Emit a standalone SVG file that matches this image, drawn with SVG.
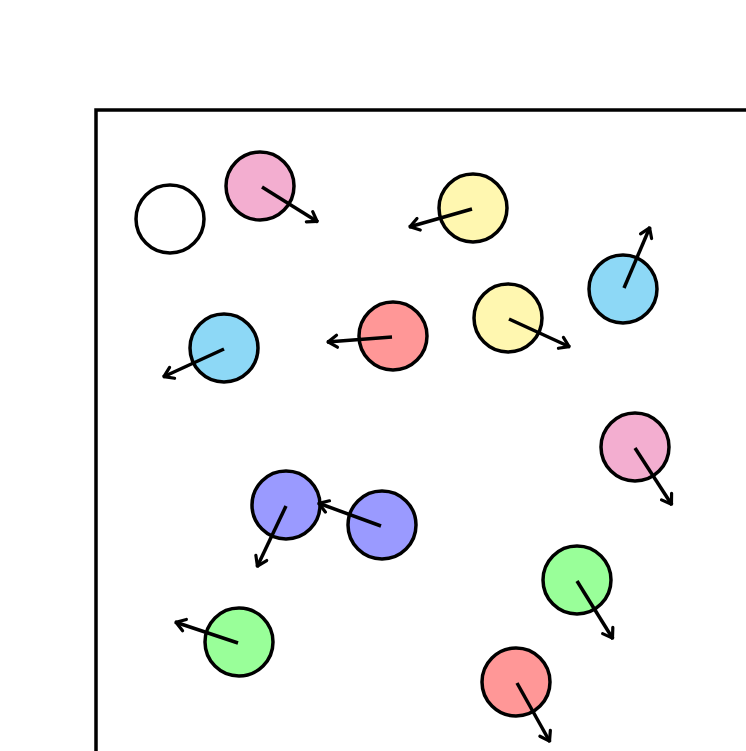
<svg xmlns="http://www.w3.org/2000/svg" width="746" height="751" viewBox="0 0 746 751">
<style>
.n{stroke:#000;stroke-width:3.5}
.pink{fill:#f3aed0}.yellow{fill:#fff7b0}.blue{fill:#8dd8f6}.red{fill:#ff9797}.purple{fill:#9a9aff}.green{fill:#99ff99}.white{fill:#fff}
.c line{stroke:#000;stroke-width:3.5;stroke-linecap:butt;marker-end:url(#ah)}
</style>
<defs>
<marker id="ah" markerUnits="userSpaceOnUse" viewBox="-12 -8 14 16" markerWidth="14" markerHeight="16" refX="1" refY="0" orient="auto">
<path d="M-9,-6 L0,0 L-9,6" fill="none" stroke="#000" stroke-width="3.2" stroke-linecap="round" stroke-linejoin="round"/>
</marker>
</defs>
<rect width="746" height="751" fill="#fff"/>
<path d="M96,751 V110 H746" fill="none" stroke="#000" stroke-width="3.5"/>
<g id="n1"><circle class="n white" cx="170" cy="219" r="34"/></g>
<g id="n2"><circle class="n pink" cx="260" cy="186" r="34"/></g>
<g id="n3"><circle class="n yellow" cx="473" cy="208" r="34"/></g>
<g id="n4"><circle class="n blue" cx="623" cy="289" r="34"/></g>
<g id="n5"><circle class="n blue" cx="224" cy="348" r="34"/></g>
<g id="n6"><circle class="n red" cx="393" cy="336" r="34"/></g>
<g id="n7"><circle class="n yellow" cx="508" cy="318" r="34"/></g>
<g id="n8"><circle class="n pink" cx="635" cy="447" r="34"/></g>
<g id="n9"><circle class="n purple" cx="286" cy="505" r="34"/></g>
<g id="n10"><circle class="n purple" cx="382" cy="525" r="34"/></g>
<g id="n11"><circle class="n green" cx="577" cy="580" r="34"/></g>
<g id="n12"><circle class="n green" cx="239" cy="642" r="34"/></g>
<g id="n13"><circle class="n red" cx="516" cy="682" r="34"/></g>
<g id="connectors" class="c">
<line x1="262" y1="187" x2="318" y2="222"/>
<line x1="472" y1="209" x2="409" y2="227"/>
<line x1="624" y1="288" x2="650" y2="227"/>
<line x1="224" y1="349" x2="163" y2="377"/>
<line x1="392" y1="337" x2="327" y2="342"/>
<line x1="509" y1="319" x2="570" y2="347"/>
<line x1="635" y1="448" x2="672" y2="505"/>
<line x1="286" y1="506" x2="257" y2="567"/>
<line x1="381" y1="526" x2="318" y2="503"/>
<line x1="577" y1="581" x2="613" y2="639"/>
<line x1="238" y1="643" x2="175" y2="622"/>
<line x1="517" y1="683" x2="550" y2="742"/>
</g>
</svg>
